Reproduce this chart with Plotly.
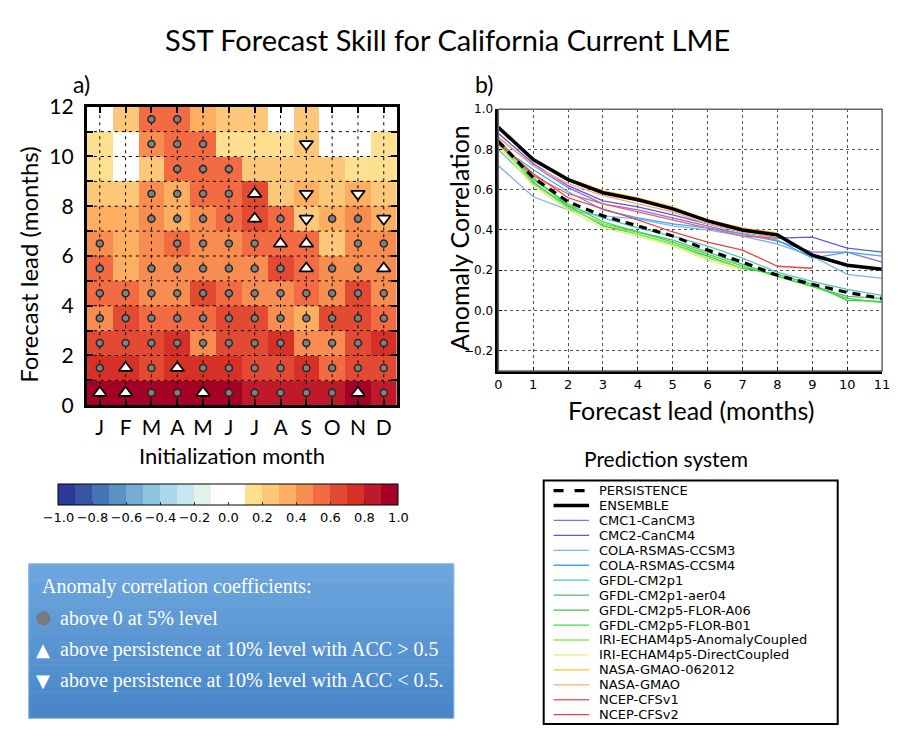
import plotly.graph_objects as go

W, H = 898, 736
def px(x): return x / W
def py(y): return 1 - y / H

# ---------------- Panel a data ----------------
months = ["J", "F", "M", "A", "M", "J", "J", "A", "S", "O", "N", "D"]
# ACC per forecast lead (Jan..Dec initialization)
acc_lead00 = [0.95, 0.95, 0.95, 0.95, 0.95, 0.95, 0.85, 0.85, 0.85, 0.85, 0.95, 0.85]
acc_lead01 = [0.75, 0.75, 0.65, 0.75, 0.75, 0.75, 0.65, 0.65, 0.75, 0.55, 0.65, 0.65]
acc_lead02 = [0.65, 0.65, 0.65, 0.75, 0.45, 0.65, 0.65, 0.75, 0.45, 0.45, 0.65, 0.75]
acc_lead03 = [0.45, 0.65, 0.55, 0.55, 0.55, 0.65, 0.65, 0.45, 0.35, 0.65, 0.65, 0.55]
acc_lead04 = [0.55, 0.55, 0.45, 0.45, 0.65, 0.55, 0.45, 0.45, 0.55, 0.45, 0.65, 0.45]
acc_lead05 = [0.55, 0.35, 0.45, 0.45, 0.45, 0.45, 0.45, 0.65, 0.55, 0.45, 0.45, 0.45]
acc_lead06 = [0.45, 0.35, 0.45, 0.55, 0.45, 0.45, 0.55, 0.55, 0.55, 0.25, 0.45, 0.45]
acc_lead07 = [0.35, 0.35, 0.45, 0.35, 0.45, 0.55, 0.65, 0.55, 0.25, 0.35, 0.45, 0.35]
acc_lead08 = [0.25, 0.25, 0.45, 0.35, 0.55, 0.55, 0.65, 0.25, 0.35, 0.25, 0.35, 0.25]
acc_lead09 = [0.15, 0.05, 0.25, 0.55, 0.55, 0.55, 0.25, 0.25, 0.25, 0.25, 0.15, 0.15]
acc_lead10 = [0.15, 0.05, 0.45, 0.55, 0.55, 0.15, 0.15, 0.15, 0.25, 0.05, 0.05, 0.15]
acc_lead11 = [0.05, 0.25, 0.55, 0.55, 0.35, 0.25, 0.25, 0.05, 0.25, 0.05, 0.05, 0.05]

# significance: o = above 0 at 5%, ^ = above persistence ACC>0.5, v = above persistence ACC<0.5, . = none
sig_lead00 = "^^oo^ooooo^o"
sig_lead01 = "o^o^oooooooo"
sig_lead02 = "oooooooooooo"
sig_lead03 = "oooooooooooo"
sig_lead04 = "oooooooooooo"
sig_lead05 = "o.oooooo^oo^"
sig_lead06 = "o..oooo^^.oo"
sig_lead07 = "..oooo^ovoov"
sig_lead08 = "..oooo^.v.v."
sig_lead09 = "...ooo......"
sig_lead10 = "..ooo...v..."
sig_lead11 = "..oo........"

acc_rows = [acc_lead00, acc_lead01, acc_lead02, acc_lead03, acc_lead04, acc_lead05,
            acc_lead06, acc_lead07, acc_lead08, acc_lead09, acc_lead10, acc_lead11]
sig_rows = [sig_lead00, sig_lead01, sig_lead02, sig_lead03, sig_lead04, sig_lead05,
            sig_lead06, sig_lead07, sig_lead08, sig_lead09, sig_lead10, sig_lead11]

cbar_ticks = [-1.0, -0.8, -0.6, -0.4, -0.2, 0.0, 0.2, 0.4, 0.6, 0.8, 1.0]

# ---------------- Panel b data ----------------
lead_b = list(range(12))
persistence = [0.84, 0.66, 0.54, 0.47, 0.42, 0.37, 0.30, 0.24, 0.175, 0.13, 0.09, 0.06]
ensemble = [0.91, 0.75, 0.65, 0.585, 0.55, 0.505, 0.445, 0.40, 0.375, 0.275, 0.225, 0.205]
cmc1 = [0.86, 0.72, 0.61, 0.53, 0.50, 0.46, 0.42, 0.38, 0.345, 0.29, 0.29, 0.24]
cmc2 = [0.88, 0.73, 0.62, 0.545, 0.515, 0.475, 0.43, 0.39, 0.36, 0.365, 0.31, 0.29]
cola3 = [0.72, 0.565, 0.50, 0.47, 0.455, 0.42, 0.40, 0.37, 0.33, 0.27, 0.18, 0.16]
cola4 = [0.82, 0.70, 0.59, 0.50, 0.46, 0.43, 0.41, 0.38, 0.35, 0.26, 0.29, 0.27]
gfdl21 = [0.80, 0.63, 0.52, 0.46, 0.41, 0.37, 0.32, 0.26, 0.19, 0.145, 0.105, 0.075]
gfdl21aer = [0.83, 0.64, 0.51, 0.43, 0.39, 0.35, 0.29, 0.23, 0.17, 0.12, 0.07, 0.06]
flor_a06 = [0.85, 0.66, 0.52, 0.42, 0.38, 0.33, 0.27, 0.21, 0.18, 0.13, 0.05, 0.045]
flor_b01 = [0.85, 0.65, 0.53, 0.44, 0.39, 0.34, 0.28, 0.22, 0.17, 0.12, 0.06, 0.04]
iri_ac = [0.84, 0.63, 0.51, 0.43, 0.38, 0.33, 0.26, 0.21]
iri_dc = [0.82, 0.62, 0.50, 0.41, 0.37, 0.32, 0.25, 0.20]
nasa_062012 = [0.90, 0.745, 0.655, 0.595, 0.56, 0.515, 0.45, 0.41, 0.385]
nasa = [0.86, 0.72, 0.63, 0.57, 0.53, 0.49, 0.43, 0.39, 0.36]
cfsv1 = [0.84, 0.67, 0.58, 0.53, 0.49, 0.45, 0.41, 0.37, 0.36]
cfsv2 = [0.83, 0.68, 0.56, 0.505, 0.45, 0.39, 0.34, 0.30, 0.22, 0.21]

model_names = ["CMC1-CanCM3", "CMC2-CanCM4", "COLA-RSMAS-CCSM3", "COLA-RSMAS-CCSM4",
               "GFDL-CM2p1", "GFDL-CM2p1-aer04", "GFDL-CM2p5-FLOR-A06", "GFDL-CM2p5-FLOR-B01",
               "IRI-ECHAM4p5-AnomalyCoupled", "IRI-ECHAM4p5-DirectCoupled", "NASA-GMAO-062012",
               "NASA-GMAO", "NCEP-CFSv1", "NCEP-CFSv2"]
model_series = [cmc1, cmc2, cola3, cola4, gfdl21, gfdl21aer, flor_a06, flor_b01,
                iri_ac, iri_dc, nasa_062012, nasa, cfsv1, cfsv2]
model_colors = ["#9a66ee", "#5a5ae0", "#7fb4ea", "#34aeee", "#4fc8b8", "#56b878",
                "#3cc83c", "#3ede3e", "#86ee58", "#e6ec7a", "#fcc62a", "#fca674",
                "#ee6262", "#e84444"]

# ---------------- colours ----------------
bin_colors = ["#2c3996", "#3a54a4", "#4575b4", "#5b91c3", "#74add1", "#8fc4de", "#abd9e9",
              "#c8e6f0", "#e2f4e8", "#ffffff", "#ffffff", "#fee090", "#fdc87a", "#fdae61",
              "#f88d52", "#f36b43", "#e34a33", "#d73027", "#bf1a2a", "#a50026"]
colorscale = []
nb = len(bin_colors)
for i, c in enumerate(bin_colors):
    colorscale.append([i / nb, c])
    colorscale.append([(i + 1) / nb, c])

fig = go.Figure()

# heatmap
fig.add_trace(go.Heatmap(
    z=acc_rows, x=list(range(12)), y=[i + 0.5 for i in range(12)],
    zmin=-1, zmax=1, colorscale=colorscale, xaxis="x", yaxis="y",
    hoverinfo="skip",
    colorbar=dict(orientation="h", x=px(227.5), xanchor="center", y=py(487), yanchor="top",
                  len=345 / W, lenmode="fraction", thickness=21, thicknessmode="pixels",
                  outlinewidth=1, outlinecolor="black", xpad=0, ypad=0,
                  tickvals=cbar_ticks,
                  ticktext=[("\u2212%.1f" % abs(v)) if v < 0 else "%.1f" % v for v in cbar_ticks],
                  ticks="inside", ticklen=3, tickcolor="#333",
                  tickfont=dict(family="DejaVu Sans", size=13, color="black")),
))

# dotted grid of panel a
gx, gy = [], []
for i in range(12):
    gx += [i, i, None]
    gy += [0, 12, None]
for j in range(1, 12):
    gx += [-0.5, 11.5, None]
    gy += [j, j, None]
fig.add_trace(go.Scatter(x=gx, y=gy, mode="lines", xaxis="x", yaxis="y",
                         line=dict(color="black", width=1, dash="3px,4px"),
                         hoverinfo="skip", showlegend=False))

# significance markers
sym = {"o": ("circle", 7, "#808080", "#262626", 1.5),
       "^": ("triangle-up", 12, "white", "black", 1.8),
       "v": ("triangle-down", 12, "white", "black", 1.8)}
for key, (symbol, size, fill, edge, lw) in sym.items():
    xs, ys = [], []
    for lead, row in enumerate(sig_rows):
        for m, ch in enumerate(row):
            if ch == key:
                xs.append(m)
                ys.append(lead + 0.5)
    fig.add_trace(go.Scatter(x=xs, y=ys, mode="markers", xaxis="x", yaxis="y",
                             marker=dict(symbol=symbol, size=size, color=fill,
                                         line=dict(color=edge, width=lw)),
                             hoverinfo="skip", showlegend=False))

# ---------------- panel b lines ----------------
for name, ser, col in zip(model_names, model_series, model_colors):
    fig.add_trace(go.Scatter(x=lead_b[:len(ser)], y=ser, mode="lines", name=name,
                             xaxis="x2", yaxis="y2", line=dict(color=col, width=1.3),
                             showlegend=False))
fig.add_trace(go.Scatter(x=lead_b, y=persistence, mode="lines", name="PERSISTENCE",
                         xaxis="x2", yaxis="y2", line=dict(color="black", width=3.2, dash="8px,6px"),
                         showlegend=False))
fig.add_trace(go.Scatter(x=lead_b, y=ensemble, mode="lines", name="ENSEMBLE",
                         xaxis="x2", yaxis="y2", line=dict(color="black", width=3.5),
                         showlegend=False))

big = "Lato"
shapes = []
annotations = []

# frame of panel b (thin grey top/right)
shapes.append(dict(type="rect", xref="x2 domain", yref="y2 domain", x0=0, x1=1, y0=0, y1=1,
                   line=dict(color="#666", width=1.5), layer="above"))

# manual legend for panel b
leg_names = ["PERSISTENCE", "ENSEMBLE"] + model_names
leg_colors = ["black", "black"] + model_colors
leg_widths = [3.2, 3.5] + [1.3] * len(model_names)
leg_dash = ["10px,11px", "solid"] + ["solid"] * len(model_names)
shapes.append(dict(type="rect", xref="paper", yref="paper", x0=px(547), x1=px(845),
                   y0=py(735), y1=py(483), line=dict(color="black", width=2),
                   fillcolor="white", layer="below"))
for k, (nm, c, w, d) in enumerate(zip(leg_names, leg_colors, leg_widths, leg_dash)):
    yy = 493.3 + 15.47 * k
    shapes.append(dict(type="line", xref="paper", yref="paper", x0=px(557), x1=px(593),
                       y0=py(yy), y1=py(yy), line=dict(color=c, width=w, dash=d)))
    annotations.append(dict(text=nm, x=px(602), y=py(yy), xref="paper", yref="paper",
                            xanchor="left", yanchor="middle", showarrow=False, borderpad=0,
                            font=dict(family="DejaVu Sans", size=13, color="black")))

# blue info box (vertical gradient)
top_rgb = (110, 167, 222)
bot_rgb = (72, 134, 200)
nstrip = 40
y_top, y_bot = 569, 729
for s in range(nstrip):
    t = s / (nstrip - 1)
    r = int(top_rgb[0] + (bot_rgb[0] - top_rgb[0]) * t)
    g = int(top_rgb[1] + (bot_rgb[1] - top_rgb[1]) * t)
    b = int(top_rgb[2] + (bot_rgb[2] - top_rgb[2]) * t)
    ya = y_top + (y_bot - y_top) * s / nstrip
    yb = y_top + (y_bot - y_top) * (s + 1) / nstrip + 0.6
    shapes.append(dict(type="rect", xref="paper", yref="paper", x0=px(25), x1=px(456),
                       y0=py(yb), y1=py(ya), line=dict(width=0),
                       fillcolor="rgb(%d,%d,%d)" % (r, g, b), layer="below"))
shapes.append(dict(type="rect", xref="paper", yref="paper", x0=px(25), x1=px(456),
                   y0=py(729), y1=py(569), line=dict(color="#8db8e6", width=1)))
shapes.append(dict(type="circle", xref="paper", yref="paper", x0=px(33.5), x1=px(46.5),
                   y0=py(632), y1=py(619), fillcolor="#7c7c7c", line=dict(color="#707070", width=1)))
serif = "Liberation Serif"
annotations.append(dict(text="Anomaly correlation coefficients:", x=px(36), y=py(593),
                        xref="paper", yref="paper", xanchor="left", yanchor="middle",
                        showarrow=False, font=dict(family=serif, size=20, color="white")))
box_items = [("above 0 at 5% level", 625.5, None),
             ("above persistence at 10% level with ACC > 0.5", 657.5, "\u25B2"),
             ("above persistence at 10% level with ACC < 0.5.", 689.5, "\u25BC")]
for txt, yy, glyph in box_items:
    annotations.append(dict(text=txt, x=px(55), y=py(yy), xref="paper", yref="paper",
                            xanchor="left", yanchor="middle", showarrow=False,
                            font=dict(family=serif, size=20, color="white")))
    if glyph:
        annotations.append(dict(text=glyph, x=px(40), y=py(yy), xref="paper", yref="paper",
                                xanchor="center", yanchor="middle", showarrow=False,
                                font=dict(family="DejaVu Sans", size=18, color="white")))

# titles & labels
def lab(text, x, y, size, angle=0, family=big):
    annotations.append(dict(text=text, x=px(x), y=py(y), xref="paper", yref="paper",
                            xanchor="center", yanchor="middle", showarrow=False,
                            textangle=angle, font=dict(family=family, size=size, color="black")))

lab("SST Forecast Skill for California Current LME", 449, 26, 29)
lab("a)", 79, 72, 23)
lab("b)", 486, 72, 23)
lab("Forecast lead (months)", 25, 259, 24, -90)
lab("Initialization month", 231, 457, 22)
lab("Anomaly Correlation", 461, 232, 25, -90)
lab("Forecast lead (months)", 696, 410, 25)
lab("Prediction system", 671, 460, 21)

ytv = list(range(13))
fig.update_layout(
    width=W, height=H, margin=dict(l=0, r=0, t=0, b=0),
    paper_bgcolor="white", plot_bgcolor="white", showlegend=False,
    shapes=shapes, annotations=annotations,
    xaxis=dict(domain=[px(84), px(398)], range=[-0.5, 11.5], tickvals=list(range(12)),
               ticktext=months, ticks="inside", ticklen=6, tickwidth=1.5, tickcolor="black",
               showline=True, linewidth=3, linecolor="black", mirror="ticks",
               showgrid=False, zeroline=False, ticklabelstandoff=2,
               tickfont=dict(family=big, size=21, color="black"), fixedrange=True),
    yaxis=dict(domain=[py(405), py(96)], range=[0, 12], tickvals=ytv,
               ticktext=[str(v) if v % 2 == 0 else "" for v in ytv],
               ticks="inside", ticklen=6, tickwidth=1.5, tickcolor="black",
               showline=True, linewidth=3, linecolor="black", mirror="ticks",
               showgrid=False, zeroline=False, ticklabelstandoff=6,
               tickfont=dict(family=big, size=21, color="black"), fixedrange=True),
    xaxis2=dict(domain=[px(501), px(890)], range=[0, 11], tickvals=list(range(12)),
                ticks="inside", ticklen=4, tickcolor="black", anchor="y2",
                showline=True, linewidth=2.5, linecolor="black", ticklabeloverflow="allow",
                showgrid=True, gridcolor="#555", griddash="dot", gridwidth=1,
                zeroline=False, tickfont=dict(family="DejaVu Sans", size=13, color="black")),
    yaxis2=dict(domain=[py(369.5), py(98.5)], range=[-0.3, 1.0],
                tickvals=[-0.2, 0.0, 0.2, 0.4, 0.6, 0.8, 1.0], tickformat=".1f",
                ticks="inside", ticklen=4, tickcolor="black", anchor="x2",
                showline=True, linewidth=2.5, linecolor="black",
                showgrid=True, gridcolor="#555", griddash="dot", gridwidth=1,
                zeroline=False, tickfont=dict(family="DejaVu Sans", size=12, color="black")),
)

fig.write_html("out.html")
